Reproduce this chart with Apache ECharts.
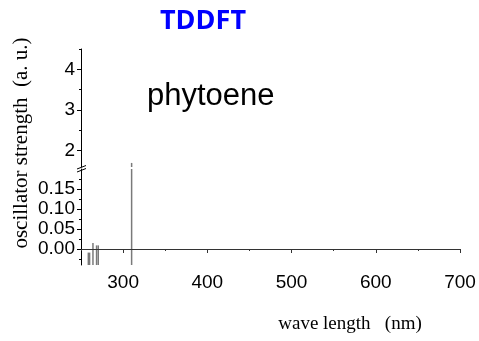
<!DOCTYPE html>
<html>
<head>
<meta charset="utf-8">
<script src="https://cdn.jsdelivr.net/npm/echarts@6/dist/echarts.min.js"></script>
<style>html,body{margin:0;padding:0;background:#fff}#c{width:479px;height:341px}</style>
</head>
<body>
<div id="c"></div>
<script>
// Data
var wavelengths = [258.7, 260.2, 264.2, 268.5, 270.5, 310.1];
var strengths   = [-0.009, -0.009, 0.015, 0.009, 0.009, 1.70];
var xMajorTicks = [300, 400, 500, 600, 700];
var xMinorTicks = [250, 350, 450, 550, 650];
var upperMajorTicks = [2, 3, 4];
var upperMinorTicks = [2.5, 3.5, 4.5];
var lowerMajorTicks = [0, 0.05, 0.10, 0.15];
var lowerMinorTicks = [-0.025, 0.025, 0.075, 0.125, 0.175];

var sticks = wavelengths.map(function (w, i) { return [w, strengths[i]]; });

var chart = echarts.init(document.getElementById('c'), null, {renderer: 'canvas'});
var labelFont = {fontFamily: 'Liberation Sans, Arial', fontSize: 19, color: '#000'};

function renderStick(params, api) {
  var cs = params.coordSys;
  var bottom = cs.y + cs.height;
  var top = cs.y;
  var p = api.coord([api.value(0), api.value(1)]);
  if (p[1] >= bottom) {
    return null;
  }
  var y1 = Math.max(p[1], top);
  return {
    type: 'line',
    shape: {x1: p[0], y1: y1, x2: p[0], y2: bottom},
    style: {stroke: '#7a7a7a', lineWidth: 1.5}
  };
}

var xCommon = {
  type: 'value', min: 250, max: 700,
  splitLine: {show: false}
};

var option = {
  animation: false,
  title: {
    text: 'TDDFT', left: 198, top: 3, textAlign: 'center',
    textStyle: {color: '#0000ff', fontFamily: 'Open Sans', fontWeight: 'bold', fontSize: 27}
  },
  grid: [
    {left: 81, right: 19, top: 49, height: 118},
    {left: 81, right: 19, top: 169, height: 96}
  ],
  xAxis: [
    Object.assign({}, xCommon, {gridIndex: 0, show: false}),
    Object.assign({}, xCommon, {
      gridIndex: 1, position: 'bottom',
      axisLine: {show: true, lineStyle: {color: '#555', width: 1}},
      axisTick: {show: true, inside: false, length: 4, customValues: xMajorTicks, lineStyle: {color: '#333'}},
      axisLabel: {show: true, customValues: xMajorTicks, margin: 8, fontFamily: labelFont.fontFamily, fontSize: labelFont.fontSize, color: '#000'}
    }),
    Object.assign({}, xCommon, {
      gridIndex: 1, position: 'bottom',
      axisLine: {show: false},
      axisTick: {show: true, length: 2, customValues: xMinorTicks, lineStyle: {color: '#333'}},
      axisLabel: {show: false}
    })
  ],
  yAxis: [
    {
      type: 'value', gridIndex: 0, position: 'left', min: 1.6, max: 4.5, splitLine: {show: false},
      axisLine: {show: true, lineStyle: {color: '#000'}},
      axisTick: {show: true, length: 4, customValues: upperMajorTicks, lineStyle: {color: '#000'}},
      axisLabel: {customValues: upperMajorTicks, margin: 6, fontFamily: labelFont.fontFamily, fontSize: labelFont.fontSize, color: '#000'}
    },
    {
      type: 'value', gridIndex: 1, position: 'left', min: -0.04, max: 0.2, splitLine: {show: false},
      axisLine: {show: true, lineStyle: {color: '#000'}},
      axisTick: {show: true, length: 4, customValues: lowerMajorTicks, lineStyle: {color: '#000'}},
      axisLabel: {customValues: lowerMajorTicks, margin: 6, fontFamily: labelFont.fontFamily, fontSize: labelFont.fontSize, color: '#000',
        formatter: function (v) { return v.toFixed(2); }}
    },
    {
      type: 'value', gridIndex: 0, position: 'left', offset: 0, min: 1.6, max: 4.5, splitLine: {show: false},
      axisLine: {show: false},
      axisTick: {show: true, length: 2, customValues: upperMinorTicks, lineStyle: {color: '#000'}},
      axisLabel: {show: false}
    },
    {
      type: 'value', gridIndex: 1, position: 'left', offset: 0, min: -0.04, max: 0.2, splitLine: {show: false},
      axisLine: {show: false},
      axisTick: {show: true, length: 2, customValues: lowerMinorTicks, lineStyle: {color: '#000'}},
      axisLabel: {show: false}
    }
  ],
  series: [
    {
      type: 'custom', xAxisIndex: 0, yAxisIndex: 0, data: sticks,
      renderItem: renderStick, silent: true
    },
    {
      type: 'custom', xAxisIndex: 1, yAxisIndex: 1, data: sticks,
      renderItem: renderStick, silent: true,
      markLine: {
        silent: true, symbol: 'none', label: {show: false},
        lineStyle: {color: '#333', width: 1, type: 'solid'},
        data: [{yAxis: 0}]
      }
    }
  ],
  graphic: [
    {type: 'line', shape: {x1: 77, y1: 169, x2: 86, y2: 165.5}, style: {stroke: '#000', lineWidth: 1}},
    {type: 'line', shape: {x1: 77, y1: 172, x2: 86, y2: 168.5}, style: {stroke: '#000', lineWidth: 1}},
    {type: 'text', left: 147, top: 81, style: {text: 'phytoene', font: '31px "Liberation Sans", Arial', fill: '#000'}},
    {type: 'text', x: 350, y: 324, style: {text: 'wave length   (nm)', font: '19px "Liberation Serif", "Times New Roman"', fill: '#000', textAlign: 'center', textVerticalAlign: 'middle'}},
    {type: 'text', x: 21, y: 143, rotation: Math.PI / 2, style: {text: 'oscillator strength  (a. u.)', font: '21px "Liberation Serif", "Times New Roman"', fill: '#000', textAlign: 'center', textVerticalAlign: 'middle'}}
  ]
};
chart.setOption(option);
</script>
</body>
</html>
